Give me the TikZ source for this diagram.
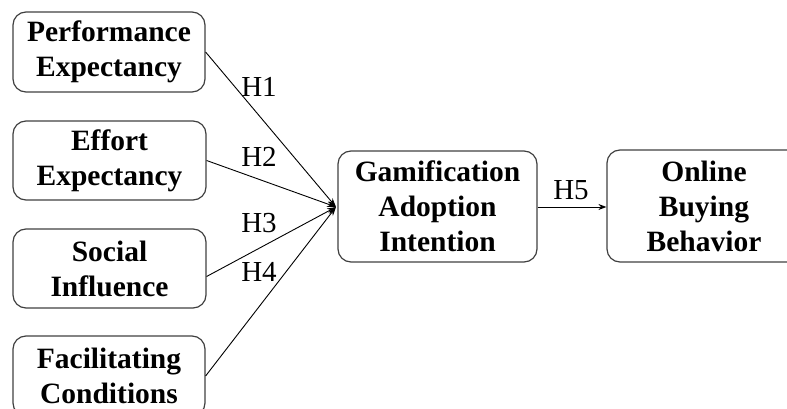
\documentclass[tikz,border=0pt]{standalone}
\usepackage{fontspec}
\setmainfont{Liberation Serif}
\usetikzlibrary{arrows.meta,calc}
\begin{document}
\begin{tikzpicture}[x=1pt,y=-1pt,
  box/.style={draw=black!75,line width=1.2pt,rounded corners=13pt,align=center,
    font=\fontsize{29.5}{35}\selectfont\bfseries,inner sep=0pt},
  lab/.style={font=\fontsize{29}{34}\selectfont,inner sep=0pt},
  conn/.style={line width=0.9pt,-{Stealth[length=9pt,width=6pt]}}]
\useasboundingbox (0,0) rectangle (787,409);
\clip (0,0) rectangle (787,409);
\node[box,minimum width=192pt,minimum height=80pt] (b1) at (109,52) {Performance\\Expectancy};
\node[box,minimum width=193pt,minimum height=79pt] (b2) at (109.5,160.5) {Effort\\Expectancy};
\node[box,minimum width=193pt,minimum height=79pt] (b3) at (109.5,268.5) {Social\\Influence};
\node[box,minimum width=192pt,minimum height=80pt] (b4) at (109,376) {Facilitating\\Conditions};
\node[box,minimum width=199pt,minimum height=111pt] (g) at (437.5,206.5) {Gamification\\Adoption\\Intention};
\node[box,minimum width=194pt,minimum height=112pt] (o) at (704,206) {Online\\Buying\\Behavior};
\coordinate (hub) at (336,207);
\draw[conn] (b1.east) -- (hub);
\draw[conn] (b2.east) -- (hub);
\draw[conn] ($(b3.east)+(0,8)$) -- (hub);
\draw[conn] (b4.east) -- (hub);
\draw[line width=0.9pt,-{Stealth[length=8pt,width=6pt]}] (g.east |- hub) -- (o.west |- hub);
\node[lab] (h1) at (259,87) {H1};
\node[lab] (h2) at (259,157) {H2};
\node[lab] (h3) at (259,223) {H3};
\node[lab] (h4) at (259,272) {H4};
\node[lab] (h5) at (571,190) {H5};
\end{tikzpicture}
\end{document}
